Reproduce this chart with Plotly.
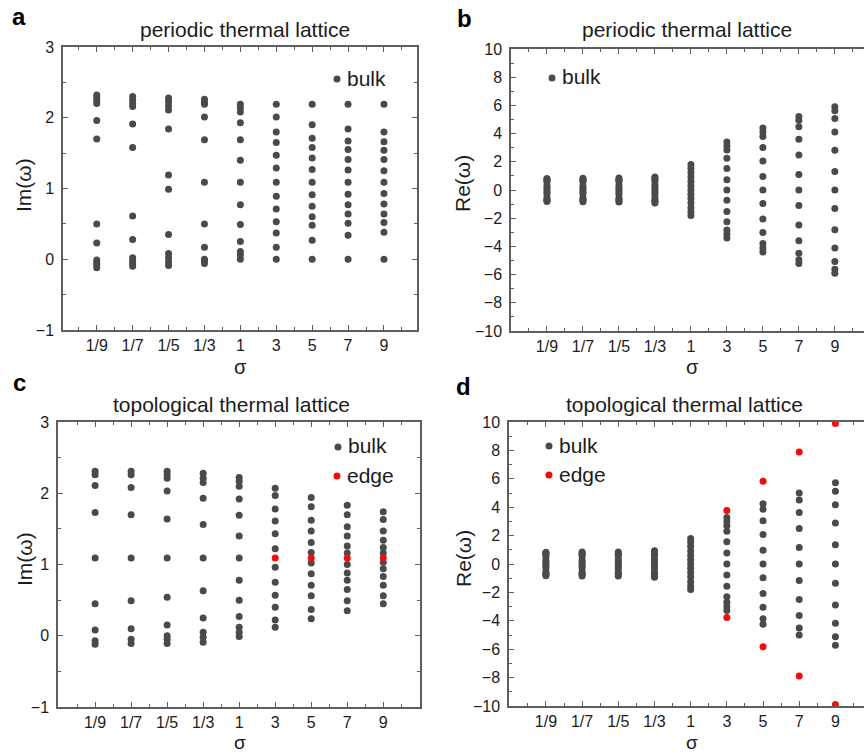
import plotly.graph_objects as go

W, H = 864, 755

# sigma values along the horizontal axis
sigma_labels = ["1/9", "1/7", "1/5", "1/3", "1", "3", "5", "7", "9"]

# (a) periodic lattice, Im(omega), bulk modes for each sigma
periodic_im = [
    [2.32, 2.28, 2.24, 2.20, 1.96, 1.70, 0.50, 0.23, -0.01, -0.05, -0.08, -0.12],
    [2.30, 2.25, 2.20, 2.16, 1.91, 1.58, 0.61, 0.28, 0.02, -0.02, -0.06, -0.10],
    [2.28, 2.23, 2.17, 2.11, 1.84, 1.19, 0.99, 0.35, 0.08, 0.02, -0.04, -0.09],
    [2.26, 2.22, 2.19, 2.01, 1.69, 1.09, 0.50, 0.17, 0.00, -0.03, -0.06],
    [2.19, 2.14, 2.08, 1.93, 1.69, 1.40, 1.09, 0.77, 0.49, 0.25, 0.11, 0.06, 0.00],
    [2.19, 2.01, 1.80, 1.65, 1.47, 1.29, 1.09, 0.89, 0.71, 0.53, 0.37, 0.17, 0.00],
    [2.19, 1.90, 1.71, 1.58, 1.43, 1.27, 1.09, 0.91, 0.75, 0.60, 0.48, 0.27, 0.00],
    [2.19, 1.84, 1.67, 1.55, 1.41, 1.26, 1.09, 0.92, 0.77, 0.64, 0.51, 0.34, 0.00],
    [2.19, 1.80, 1.66, 1.54, 1.41, 1.25, 1.09, 0.93, 0.78, 0.64, 0.52, 0.38, 0.00],
]

# (b) periodic lattice, Re(omega), bulk modes
periodic_re = [
    [0.82, 0.74, 0.65, 0.55, 0.28, 0.14, 0.0, -0.14, -0.28, -0.55, -0.65, -0.74, -0.82],
    [0.84, 0.75, 0.66, 0.56, 0.29, 0.15, 0.0, -0.15, -0.29, -0.56, -0.66, -0.75, -0.84],
    [0.85, 0.76, 0.67, 0.56, 0.30, 0.15, 0.0, -0.15, -0.30, -0.56, -0.67, -0.76, -0.85],
    [0.93, 0.84, 0.73, 0.59, 0.33, 0.17, 0.0, -0.17, -0.33, -0.59, -0.73, -0.84, -0.93],
    [1.80, 1.55, 1.25, 0.92, 0.60, 0.30, 0.0, -0.30, -0.60, -0.92, -1.25, -1.55, -1.80],
    [3.40, 3.13, 2.83, 2.26, 1.53, 0.73, 0.0, -0.73, -1.53, -2.26, -2.83, -3.13, -3.40],
    [4.40, 4.12, 3.80, 3.02, 2.06, 0.95, 0.0, -0.95, -2.06, -3.02, -3.80, -4.12, -4.40],
    [5.22, 4.95, 4.48, 3.60, 2.49, 1.10, 0.0, -1.10, -2.49, -3.60, -4.48, -4.95, -5.22],
    [5.90, 5.62, 5.07, 4.12, 2.82, 1.31, 0.0, -1.31, -2.82, -4.12, -5.07, -5.62, -5.90],
]

# (c) topological lattice, Im(omega)
topo_im_bulk = [
    [2.31, 2.26, 2.11, 1.73, 1.09, 0.45, 0.08, -0.07, -0.12],
    [2.31, 2.26, 2.08, 1.70, 1.09, 0.49, 0.10, -0.05, -0.11],
    [2.31, 2.26, 2.21, 2.03, 1.64, 1.09, 0.54, 0.15, 0.00, -0.05, -0.11],
    [2.28, 2.21, 2.15, 1.93, 1.56, 1.09, 0.63, 0.25, 0.05, -0.02, -0.09],
    [2.22, 2.17, 2.10, 1.92, 1.69, 1.40, 1.09, 0.78, 0.50, 0.27, 0.12, 0.05, -0.01],
    [2.07, 1.97, 1.78, 1.61, 1.43, 1.22, 0.96, 0.75, 0.57, 0.40, 0.22, 0.12],
    [1.94, 1.81, 1.62, 1.47, 1.31, 1.17, 1.02, 0.87, 0.71, 0.56, 0.37, 0.24],
    [1.83, 1.70, 1.53, 1.40, 1.26, 1.16, 1.00, 0.88, 0.78, 0.65, 0.49, 0.35],
    [1.74, 1.63, 1.47, 1.34, 1.24, 1.16, 1.03, 0.94, 0.83, 0.71, 0.56, 0.45],
]
topo_im_edge = [[], [], [], [], [], [1.09], [1.09], [1.09], [1.09]]

# (d) topological lattice, Re(omega)
topo_re_bulk = [
    [0.82, 0.74, 0.65, 0.55, 0.28, 0.14, 0.0, -0.14, -0.28, -0.55, -0.65, -0.74, -0.82],
    [0.84, 0.75, 0.66, 0.56, 0.29, 0.15, 0.0, -0.15, -0.29, -0.56, -0.66, -0.75, -0.84],
    [0.85, 0.76, 0.67, 0.56, 0.30, 0.15, 0.0, -0.15, -0.30, -0.56, -0.67, -0.76, -0.85],
    [0.93, 0.84, 0.73, 0.59, 0.33, 0.17, 0.0, -0.17, -0.33, -0.59, -0.73, -0.84, -0.93],
    [1.80, 1.55, 1.25, 0.92, 0.60, 0.30, 0.0, -0.30, -0.60, -0.92, -1.25, -1.55, -1.80],
    [3.28, 3.00, 2.70, 2.30, 1.57, 0.77, 0.0, -0.77, -1.57, -2.30, -2.70, -3.00, -3.28],
    [4.25, 3.85, 3.04, 2.08, 0.97, 0.0, -0.97, -2.08, -3.04, -3.85, -4.25],
    [5.00, 4.50, 3.63, 2.50, 1.17, 0.0, -1.17, -2.50, -3.63, -4.50, -5.00],
    [5.72, 5.13, 4.17, 2.88, 1.35, 0.0, -1.35, -2.88, -4.17, -5.13, -5.72],
]
topo_re_edge = [[], [], [], [], [], [3.77, -3.77], [5.83, -5.83], [7.88, -7.88], [9.90, -9.90]]

BULK = "#4a4a4a"
EDGE = "#f20d0d"
FRAME = "#5e5e5e"
TEXT = "#1c1c1c"
FONT = "Liberation Sans, Arial, sans-serif"

positions = list(range(1, len(sigma_labels) + 1))
minor_x = [p - 0.5 for p in positions] + [positions[-1] + 0.5]


def columns(series):
    xs, ys = [], []
    for pos, vals in zip(positions, series):
        xs += [pos] * len(vals)
        ys += vals
    return xs, ys


def px_x(px):
    return px / W


def px_y(py):
    return 1 - py / H


fig = go.Figure()


def add_series(series, color, axis_suffix):
    xs, ys = columns(series)
    fig.add_trace(go.Scatter(
        x=xs, y=ys, mode="markers",
        marker=dict(size=7, color=color, line=dict(width=0)),
        xaxis="x" + axis_suffix, yaxis="y" + axis_suffix,
        showlegend=False, cliponaxis=False,
    ))


add_series(periodic_im, BULK, "")
add_series(periodic_re, BULK, "2")
add_series(topo_im_bulk, BULK, "3")
add_series(topo_im_edge, EDGE, "3")
add_series(topo_re_bulk, BULK, "4")
add_series(topo_re_edge, EDGE, "4")


def x_axis(x0, x1, rng, anchor):
    return dict(
        domain=[px_x(x0), px_x(x1)], range=rng, anchor=anchor,
        tickmode="array", tickvals=positions, ticktext=sigma_labels,
        ticks="inside", ticklen=5, tickwidth=1.2, tickcolor=FRAME,
        minor=dict(tickmode="array", tickvals=minor_x, ticks="inside",
                   ticklen=3, tickwidth=1.2, tickcolor=FRAME),
        showline=True, linecolor=FRAME, linewidth=1.5, mirror="ticks",
        showgrid=False, zeroline=False, fixedrange=True, automargin=False,
        tickfont=dict(size=16, color=TEXT, family=FONT), ticklabelstandoff=0,
    )


def y_axis(y_top, y_bot, rng, major, minor, anchor, mirror):
    return dict(
        domain=[px_y(y_bot), px_y(y_top)], range=rng, anchor=anchor,
        tickmode="linear", tick0=rng[0], dtick=major,
        ticks="inside", ticklen=5, tickwidth=1.2, tickcolor=FRAME,
        minor=dict(dtick=minor, tick0=rng[0], ticks="inside", ticklen=3,
                   tickwidth=1.2, tickcolor=FRAME),
        showline=True, linecolor=FRAME, linewidth=1.5,
        mirror="ticks" if mirror else False,
        showgrid=False, zeroline=False, fixedrange=True, automargin=False,
        tickfont=dict(size=16, color=TEXT, family=FONT), ticklabelstandoff=4,
    )


annotations = []


def text(s, x, y, size, xanchor="center", angle=0, bold=False):
    annotations.append(dict(
        text=f"<b>{s}</b>" if bold else s, xref="paper", yref="paper",
        x=px_x(x), y=px_y(y), xanchor=xanchor, yanchor="middle",
        showarrow=False, textangle=angle,
        font=dict(size=size, color=TEXT if not bold else "#000000", family=FONT),
    ))


# panel letters and titles
text("a", 19, 17, 24, bold=True)
text("b", 464, 19, 24, bold=True)
text("c", 19, 383, 24, bold=True)
text("d", 463, 386, 24, bold=True)
text("periodic thermal lattice", 245, 29, 21)
text("periodic thermal lattice", 687, 29, 21)
text("topological thermal lattice", 231, 404, 21)
text("topological thermal lattice", 684, 404, 21)

# axis titles
text("Im(ω)", 23, 185, 21, angle=-90)
text("Re(ω)", 463, 184, 21, angle=-90)
text("Im(ω)", 24, 559, 21, angle=-90)
text("Re(ω)", 463, 559, 21, angle=-90)
text("σ", 240, 367, 20)
text("σ", 692, 367, 20)
text("σ", 240, 742, 19)
text("σ", 692, 742, 19)

shapes = []


def key(cx, cy, color, label):
    shapes.append(dict(
        type="circle", xref="paper", yref="paper",
        xsizemode="pixel", ysizemode="pixel",
        xanchor=px_x(cx), yanchor=px_y(cy),
        x0=-3.5, x1=3.5, y0=-3.5, y1=3.5,
        fillcolor=color, line=dict(width=0),
    ))
    text(label, cx + 8, cy - 1, 21, xanchor="left")


key(337, 79, BULK, "bulk")
key(552, 78, BULK, "bulk")
key(338, 447, BULK, "bulk")
key(337, 476, EDGE, "edge")
key(549, 446, BULK, "bulk")
key(549, 475, EDGE, "edge")

fig.update_layout(
    width=W, height=H, autosize=False,
    margin=dict(l=0, r=0, t=0, b=0, pad=0),
    paper_bgcolor="white", plot_bgcolor="white",
    font=dict(family=FONT, color=TEXT),
    xaxis=x_axis(63, 417, [0.06, 9.92], "y"),
    yaxis=y_axis(47, 330, [-1, 3], 1, 0.5, "x", True),
    xaxis2=x_axis(511, 864, [0.0, 9.81], "y2"),
    yaxis2=y_axis(49, 331, [-10, 10], 2, 1, "x2", False),
    xaxis3=x_axis(58, 420, [-0.03, 10.02], "y3"),
    yaxis3=y_axis(422, 707, [-1, 3], 1, 0.5, "x3", True),
    xaxis4=x_axis(509, 864, [-0.02, 9.79], "y4"),
    yaxis4=y_axis(422, 706, [-10, 10], 2, 1, "x4", False),
    annotations=annotations,
    shapes=shapes,
    showlegend=False,
)

fig.write_html("out.html", config=dict(displayModeBar=False))
